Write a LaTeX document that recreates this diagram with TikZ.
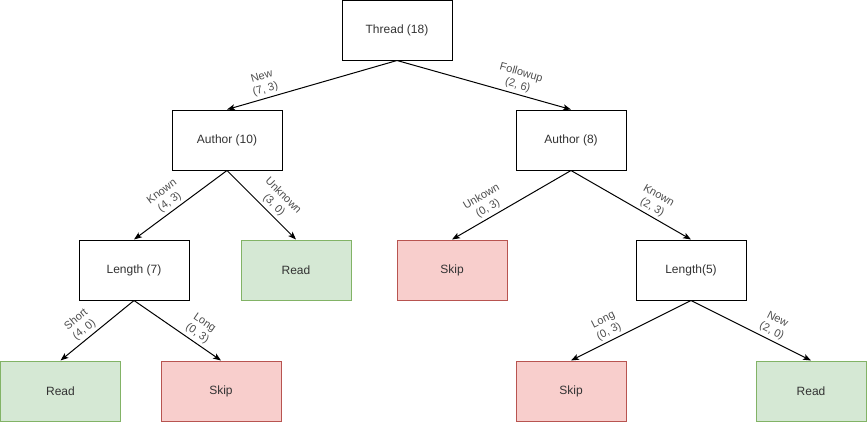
\documentclass[tikz,border=0pt]{standalone}
\usepackage{fontspec}
\setmainfont{Liberation Sans}
\usetikzlibrary{arrows.meta}
\definecolor{txt}{HTML}{333333}
\definecolor{lbl}{HTML}{4D4D4D}
\definecolor{gfill}{HTML}{D5E8D4}
\definecolor{gline}{HTML}{82B366}
\definecolor{rfill}{HTML}{F8CECC}
\definecolor{rline}{HTML}{B85450}
\tikzset{
  box/.style={draw=black, line width=1pt, fill=white, minimum width=110pt, minimum height=60pt,
    inner sep=0pt, text=txt, font=\fontsize{12}{14}\selectfont},
  readbox/.style={box, draw=gline, fill=gfill},
  skipbox/.style={box, draw=rline, fill=rfill},
  wide/.style={minimum width=120pt},
  conn/.style={line width=1pt, -{Stealth[length=8pt,width=6pt,inset=2pt]}},
  elabel/.style={sloped, above=2pt, inner sep=1pt, align=center, text=lbl,
    font=\fontsize{11}{13}\selectfont}
}
\begin{document}
\begin{tikzpicture}[x=1pt,y=-1pt]
\useasboundingbox (0,0) rectangle (867,423);
\node[box] (thread) at (397,30) {Thread (18)};
\node[box] (a10) at (227,140) {Author (10)};
\node[box] (a8) at (571,140) {Author (8)};
\node[box] (len7) at (134,270) {Length (7)};
\node[readbox] (read1) at (296,270) {Read};
\node[skipbox] (skip1) at (452,270) {Skip};
\node[box] (len5) at (691,270) {Length(5)};
\node[readbox, wide] (read2) at (60.5,391) {Read};
\node[skipbox, wide] (skip2) at (221,391) {Skip};
\node[skipbox] (skip3) at (571,391) {Skip};
\node[readbox] (read3) at (811,391) {Read};

\draw[conn] (thread.south) -- node[elabel, pos=0.76] {New\\(7, 3)} (a10.north);
\draw[conn] (thread.south) -- node[elabel, pos=0.68] {Followup\\(2, 6)} (a8.north);
\draw[conn] (a10.south) -- node[elabel, pos=0.56] {Known\\(4, 3)} (len7.north);
\draw[conn] (a10.south) -- node[elabel, pos=0.59] {Unknown\\(3, 0)} (read1.north);
\draw[conn] (a8.south) -- node[elabel, pos=0.66] {Unkown\\(0, 3)} (skip1.north);
\draw[conn] (a8.south) -- node[elabel, pos=0.64] {Known\\(2, 3)} (len5.north);
\draw[conn] (len7.south) -- node[elabel, pos=0.60] {Short\\(4, 0)} (read2.north);
\draw[conn] (len7.south) -- node[elabel, pos=0.67] {Long\\(0, 3)} (skip2.north);
\draw[conn] (len5.south) -- node[elabel, pos=0.65] {Long\\(0, 3)} (skip3.north);
\draw[conn] (len5.south) -- node[elabel, pos=0.64] {New\\(2, 0)} (read3.north);
\end{tikzpicture}
\end{document}
